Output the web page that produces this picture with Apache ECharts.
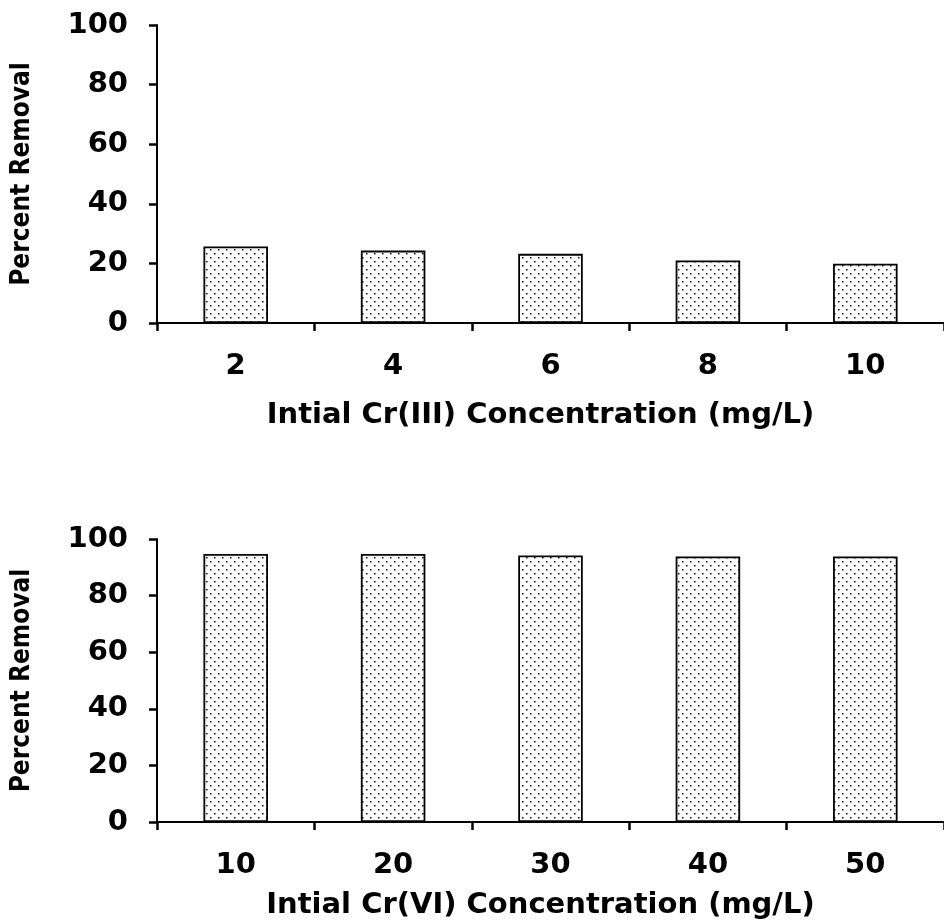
<!DOCTYPE html>
<html>
<head>
<meta charset="utf-8">
<script src="https://cdn.jsdelivr.net/npm/echarts@6/dist/echarts.min.js"></script>
<style>
html,body{margin:0;padding:0;background:#fff;}
#chart{width:944px;height:924px;}
</style>
</head>
<body>
<div id="chart"></div>
<script>
// ---- data ----
const topCategories = ['2', '4', '6', '8', '10'];
const topValues = [25.7, 24.3, 23.2, 21.0, 19.9];
const bottomCategories = ['10', '20', '30', '40', '50'];
const bottomValues = [94.7, 94.7, 94.2, 93.8, 93.8];
const topXTitle = 'Intial Cr(III) Concentration (mg/L)';
const bottomXTitle = 'Intial Cr(VI) Concentration (mg/L)';
const yTitle = 'Percent Removal';
const yTicks = [0, 20, 40, 60, 80, 100];

// ---- dotted fill pattern ----
function makePattern() {
  const c = document.createElement('canvas');
  c.width = 8; c.height = 8;
  const g = c.getContext('2d');
  g.fillStyle = '#ffffff';
  g.fillRect(0, 0, 8, 8);
  g.fillStyle = '#111111';
  g.fillRect(2, 1, 1.5, 1.5);
  g.fillRect(6, 5, 1.5, 1.5);
  return c;
}
const pattern = { image: makePattern(), repeat: 'repeat' };

const tickFont = { fontFamily: 'DejaVu Sans', fontWeight: 'bold', fontSize: 29, color: '#000' };
const axisLine = { show: true, onZero: false, lineStyle: { color: '#000', width: 2 } };

function xAxis(gridIndex, cats, title, gap) {
  return {
    type: 'category', gridIndex, data: cats,
    axisLine: axisLine,
    axisTick: { show: true, alignWithLabel: false, length: 8, lineStyle: { color: '#000', width: 2.5 } },
    axisLabel: Object.assign({ margin: 29 }, tickFont),
    name: title, nameLocation: 'middle', nameGap: gap,
    nameTextStyle: { fontFamily: 'DejaVu Sans', fontWeight: 'bold', fontSize: 29, color: '#000', padding: [0, 20, 0, 0] }
  };
}
function yAxis(gridIndex) {
  return {
    type: 'value', gridIndex, min: yTicks[0], max: yTicks[yTicks.length - 1], interval: 20,
    axisLine: axisLine,
    axisTick: { show: true, length: 8, lineStyle: { color: '#000', width: 2.5 } },
    axisLabel: Object.assign({ margin: 29 }, tickFont),
    splitLine: { show: false },
    name: yTitle, nameLocation: 'middle', nameGap: 122, nameRotate: 90,
    nameTextStyle: { fontFamily: '"DejaVu Sans Condensed", "Liberation Sans"', fontWeight: 'bold', fontSize: 26, color: '#000' }
  };
}
function barSeries(idx, values) {
  return {
    type: 'bar', xAxisIndex: idx, yAxisIndex: idx, data: values,
    barWidth: '41%',
    itemStyle: { color: pattern, borderColor: '#000', borderWidth: 1.8 },
    silent: true
  };
}

const chart = echarts.init(document.getElementById('chart'), null, { renderer: 'canvas' });
chart.setOption({
  animation: false,
  backgroundColor: '#fff',
  grid: [
    { left: 157, right: 0, top: 25, height: 298 },
    { left: 157, right: 0, top: 539, height: 283 }
  ],
  xAxis: [
    xAxis(0, topCategories, topXTitle, 78),
    xAxis(1, bottomCategories, bottomXTitle, 69)
  ],
  yAxis: [yAxis(0), yAxis(1)],
  series: [barSeries(0, topValues), barSeries(1, bottomValues)]
});
</script>
</body>
</html>
